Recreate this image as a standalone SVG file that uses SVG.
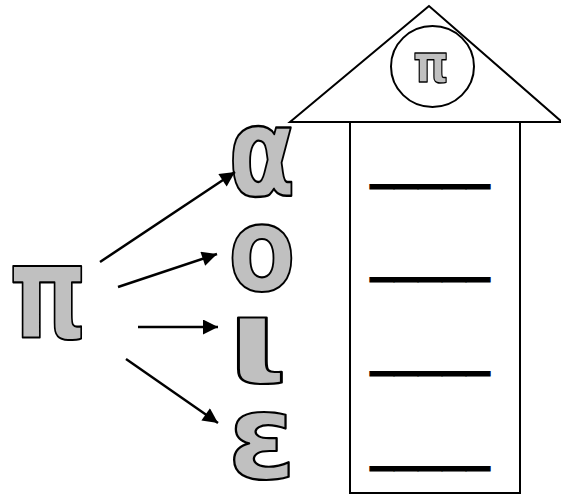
<svg xmlns="http://www.w3.org/2000/svg" width="561" height="495" viewBox="0 0 561 495">
<defs>
<marker id="ah" viewBox="0 0 10 10" refX="10" refY="5" markerWidth="7.5" markerHeight="6" markerUnits="strokeWidth" orient="auto">
<path d="M0,0 L10,5 L0,10 z" fill="#000"/>
</marker>
<style>
.g{font-family:"DejaVu Sans",sans-serif;font-weight:bold;fill:#c0c0c0;stroke:#000;stroke-width:2.2;stroke-linejoin:round;text-anchor:middle}
.u{font-family:"DejaVu Sans",sans-serif;font-weight:bold;font-size:48px;fill:#000;stroke:#000;stroke-width:1.2}
.ln{stroke:#000;stroke-width:2.5;fill:none}
.sh{stroke:#000;stroke-width:2;fill:#fff}
</style>
</defs>
<rect width="561" height="495" fill="#fff"/>
<g id="pi-main"><text class="g" transform="translate(48,338) scale(0.76,1)" font-size="130">π</text></g>
<g id="alpha"><text class="g" transform="translate(262,195) scale(0.83,1.06)" font-size="118">α</text></g>
<g id="omicron"><text class="g" transform="translate(262,290) scale(0.83,1)" font-size="118">ο</text></g>
<g id="iota"><text class="g" transform="translate(257,382) scale(1.35,1)" font-size="118">ι</text></g>
<g id="epsilon"><text class="g" transform="translate(262,478) scale(1.05,1)" font-size="118">ε</text></g>
<g id="connectors">
<line class="ln" x1="100" y1="262" x2="235" y2="172" marker-end="url(#ah)"/>
<line class="ln" x1="118" y1="287" x2="217" y2="254" marker-end="url(#ah)"/>
<line class="ln" x1="138" y1="327" x2="218" y2="327" marker-end="url(#ah)"/>
<line class="ln" x1="126" y1="359" x2="218" y2="423" marker-end="url(#ah)"/>
</g>
<g id="house">
<polygon class="sh" points="429,6 290,122 562,122"/>
<rect class="sh" x="350" y="122" width="170" height="371"/>
<ellipse class="sh" cx="432.5" cy="66.5" rx="41.5" ry="40.5"/>
<text class="g" transform="translate(431,82) scale(0.84,1)" font-size="54" style="stroke-width:1.4">π</text>
<text class="u" x="370" y="178">_____</text>
<text class="u" x="370" y="271">_____</text>
<text class="u" x="370" y="365">_____</text>
<text class="u" x="370" y="460">_____</text>
</g>
</svg>
